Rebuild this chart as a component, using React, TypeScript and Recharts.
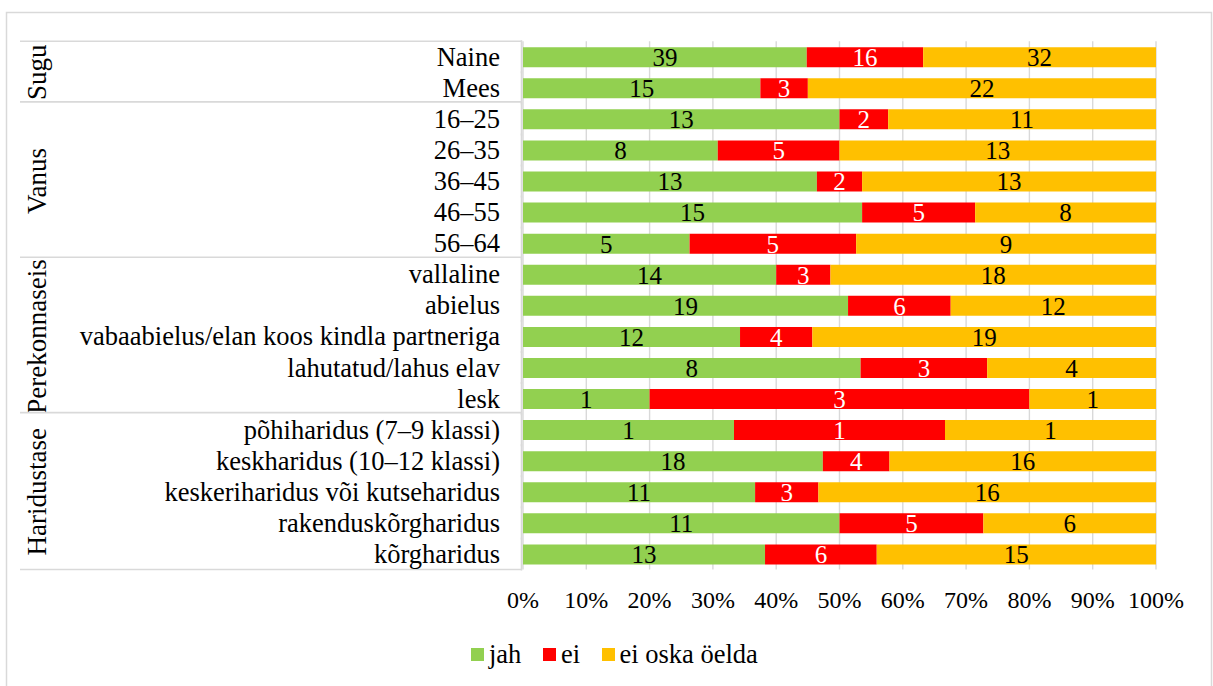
import { BarChart, Bar, XAxis, YAxis, CartesianGrid, LabelList } from "recharts";

// ── Data (counts per answer, rows top to bottom) ──────────────────────────
const CATEGORIES = [
  "Naine",
  "Mees",
  "16–25",
  "26–35",
  "36–45",
  "46–55",
  "56–64",
  "vallaline",
  "abielus",
  "vabaabielus/elan koos kindla partneriga",
  "lahutatud/lahus elav",
  "lesk",
  "põhiharidus (7–9 klassi)",
  "keskharidus (10–12 klassi)",
  "keskeriharidus või kutseharidus",
  "rakenduskõrgharidus",
  "kõrgharidus",
];
const JAH = [39, 15, 13, 8, 13, 15, 5, 14, 19, 12, 8, 1, 1, 18, 11, 11, 13];
const EI = [16, 3, 2, 5, 2, 5, 5, 3, 6, 4, 3, 3, 1, 4, 3, 5, 6];
const EI_OSKA = [32, 22, 11, 13, 13, 8, 9, 18, 12, 19, 4, 1, 1, 16, 16, 6, 15];

const GROUP_NAMES = ["Sugu", "Vanus", "Perekonnaseis", "Haridustase"];
const GROUP_SIZES = [2, 5, 5, 5];

const X_TICKS = [0, 0.1, 0.2, 0.3, 0.4, 0.5, 0.6, 0.7, 0.8, 0.9, 1];

const SERIES = [
  { key: "jah", label: "jah", color: "#92d050", text: "#000000" },
  { key: "ei", label: "ei", color: "#ff0000", text: "#ffffff" },
  { key: "eiOska", label: "ei oska öelda", color: "#ffc000", text: "#000000" },
];

const chartData = CATEGORIES.map((name, i) => ({
  name,
  jah: JAH[i],
  ei: EI[i],
  eiOska: EI_OSKA[i],
}));

// ── Layout ─────────────────────────────────────────────────────────────────
const W = 1213;
const H = 686;
const PLOT_LEFT = 523;
const PLOT_RIGHT = 1156;
const PLOT_TOP = 41.2;
const PLOT_BOTTOM = 569.5;
const X_AXIS_H = 50;
const STEP = (PLOT_BOTTOM - PLOT_TOP) / CATEGORIES.length;
const FONT = '"Liberation Serif", "Times New Roman", serif';
const LINE = "#d9d9d9";
const TABLE_LEFT = 20;
const TABLE_RIGHT = 521.5;

// group start indices
const GROUP_STARTS = GROUP_SIZES.map((_, g) =>
  GROUP_SIZES.slice(0, g).reduce((a, b) => a + b, 0)
);

function CategoryTick(props: any) {
  const { y, index, payload } = props;
  const g = GROUP_STARTS.indexOf(index);
  const isLast = index === CATEGORIES.length - 1;
  const top = y - STEP / 2 - (index === 0 ? 0 : 1.5);
  return (
    <g>
      {g >= 0 && (
        <>
          <line x1={TABLE_LEFT} x2={TABLE_RIGHT} y1={top} y2={top} stroke={LINE} strokeWidth={1.6} />
          <text
            transform={`translate(37, ${y + ((GROUP_SIZES[g] - 1) * STEP) / 2}) rotate(-90)`}
            textAnchor="middle"
            dominantBaseline="central"
            fontSize={27}
            fontFamily={FONT}
            fill="#000"
          >
            {GROUP_NAMES[g]}
          </text>
        </>
      )}
      {isLast && (
        <line x1={TABLE_LEFT} x2={TABLE_RIGHT} y1={y + STEP / 2} y2={y + STEP / 2} stroke={LINE} strokeWidth={1.6} />
      )}
      <line x1={TABLE_RIGHT} x2={TABLE_RIGHT} y1={y - STEP / 2 - 1} y2={y + STEP / 2 + 1} stroke={LINE} strokeWidth={1.6} />
      <text
        x={500}
        y={y}
        textAnchor="end"
        dominantBaseline="central"
        fontSize={26.5}
        fontFamily={FONT}
        fill="#000"
      >
        {payload.value}
      </text>
    </g>
  );
}

function PercentTick(props: any) {
  const { x, payload } = props;
  return (
    <text
      x={x}
      y={600}
      textAnchor="middle"
      dominantBaseline="central"
      fontSize={24}
      fontFamily={FONT}
      fill="#000"
    >
      {`${Math.round(payload.value * 100)}%`}
    </text>
  );
}

export default function App() {
  return (
    <div style={{ position: "absolute", left: 0, top: 0, width: W, height: H, background: "#fff", overflow: "hidden" }}>
      <svg width={W} height={H} style={{ position: "absolute", left: 0, top: 0 }}>
        <rect x={6.5} y={12.5} width={1205} height={700} fill="none" stroke={LINE} strokeWidth={1.5} />
      </svg>
      <div style={{ position: "absolute", left: 0, top: 0 }}>
        <BarChart
          width={W}
          height={H}
          data={chartData}
          layout="vertical"
          stackOffset="expand"
          barSize={20}
          margin={{ top: PLOT_TOP, right: W - PLOT_RIGHT, bottom: H - PLOT_BOTTOM - X_AXIS_H, left: 0 }}
        >
          <CartesianGrid horizontal={false} stroke={LINE} strokeWidth={1.4} />
          <XAxis
            type="number"
            domain={[0, 1]}
            ticks={X_TICKS}
            height={X_AXIS_H}
            axisLine={false}
            tickLine={false}
            tick={<PercentTick />}
            interval={0}
          />
          <YAxis
            type="category"
            dataKey="name"
            width={PLOT_LEFT}
            axisLine={false}
            tickLine={false}
            tick={<CategoryTick />}
            interval={0}
          />
          {SERIES.map((s) => (
            <Bar key={s.key} dataKey={s.key} stackId="a" fill={s.color} isAnimationActive={false}>
              <LabelList
                dataKey={s.key}
                position="center"
                fill={s.text}
                fontSize={25}
                fontFamily={FONT}
              />
            </Bar>
          ))}
        </BarChart>
      </div>
      {/* Legend */}
      <div
        style={{
          position: "absolute",
          left: 471,
          top: 641,
          height: 26,
          display: "flex",
          alignItems: "center",
          fontFamily: FONT,
          fontSize: 26.5,
          lineHeight: "26px",
          color: "#000",
          whiteSpace: "nowrap",
        }}
      >
        {SERIES.map((s) => (
          <div key={s.key} style={{ display: "flex", alignItems: "center", marginRight: 21.5 }}>
            <span style={{ width: 13, height: 13, background: s.color, marginRight: 5, display: "inline-block" }} />
            <span>{s.label}</span>
          </div>
        ))}
      </div>
    </div>
  );
}
